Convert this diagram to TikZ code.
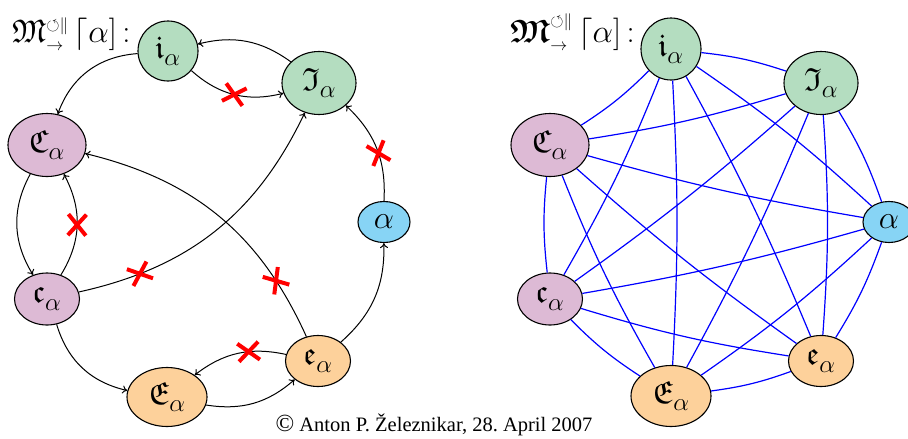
\RequirePackage{fix-cm}
\documentclass[tikz,border=0pt]{standalone}
\usepackage{amsmath,amssymb}
\usepackage{graphicx}
\usepackage{fontspec}
\setmainfont{Liberation Serif}
\usetikzlibrary{arrows.meta,shapes.geometric,shapes.misc}
\DeclareMathSizes{32}{32}{25}{20}
\DeclareMathSizes{32.5}{32.5}{17}{13}
\definecolor{cgreen}{RGB}{180,221,192}
\definecolor{cpurple}{RGB}{221,186,213}
\definecolor{cblue}{RGB}{135,212,245}
\definecolor{corange}{RGB}{253,209,155}
\newcommand{\fl}[1]{$\mathfrak{#1}_{\lower3pt\hbox{$\scriptstyle\alpha$}}$}
\tikzset{
  vtx/.style={ellipse, draw, line width=1.1pt, inner sep=0pt, font=\fontsize{32}{32}\selectfont},
  grn/.style={fill=cgreen}, pur/.style={fill=cpurple}, blu/.style={fill=cblue}, org/.style={fill=corange},
  arr/.style={-{To[length=5pt,width=8pt]}, line width=1pt},
  xmark/.style={cross out, draw=red, line width=4pt, minimum width=17pt, minimum height=14pt, inner sep=0pt, sloped},
  bl/.style={blue, line width=1.2pt},
  ttl/.style={anchor=base west, inner sep=0pt, font=\fontsize{32.5}{33}\selectfont}
}
\begin{document}
\begin{tikzpicture}[x=1pt,y=1pt]
\useasboundingbox (0,0) rectangle (908,-439);
% titles
\node[ttl] (t1) at (12,-42) {$\mathfrak{M}^{\circlearrowleft\|}_{\rightarrow}\,\lceil\alpha]\,{:}$};
\node[ttl] (t2) at (510,-42) {$\boldsymbol{\mathfrak{M}}^{\circlearrowleft\|}_{\rightarrow}\,\lceil\alpha]\,{:}$};
% left graph
\node[vtx,grn,minimum width=60pt,minimum height=60pt] (i) at (168,-51) {\fl{i}};
\node[vtx,grn,minimum width=74pt,minimum height=63pt] (J) at (319,-83) {\fl{I}};
\node[vtx,pur,minimum width=78pt,minimum height=63pt] (C) at (47,-145) {\fl{C}};
\node[vtx,blu,minimum width=52pt,minimum height=41pt] (a) at (384,-222) {$\alpha$};
\node[vtx,pur,minimum width=65pt,minimum height=52pt] (c) at (47,-299) {\fl{c}};
\node[vtx,org,minimum width=65pt,minimum height=51pt] (e) at (318,-361) {\fl{e}};
\node[vtx,org,minimum width=80pt,minimum height=59pt] (E) at (167,-397) {\fl{E}};
\draw[arr] (J) to[bend right=25] (i);
\draw[arr] (i) to[bend right=28] node[xmark,pos=.5]{} (J);
\draw[arr] (i) to[bend right=33] (C);
\draw[arr] (C) to[bend right=30] (c);
\draw[arr] (c) to[bend right=30] node[xmark,pos=.5]{} (C);
\draw[arr] (c) to[bend right=26] node[xmark,pos=.2]{} (J);
\draw[arr] (e) to[bend right=26] node[xmark,pos=.2]{} (C);
\draw[arr] (c) to[bend right=30] (E);
\draw[arr] (e) to[bend right=25] node[xmark,pos=.38]{} (E);
\draw[arr] (E) to[bend right=25] (e);
\draw[arr] (e) to[bend right=25] (a);
\draw[arr] (a) to[bend right=25] node[xmark,pos=.45]{} (J);
% right graph
\node[vtx,grn,minimum width=60pt,minimum height=62pt] (Ri) at (671,-49) {\fl{i}};
\node[vtx,grn,minimum width=74pt,minimum height=63pt] (RJ) at (821,-83) {\fl{I}};
\node[vtx,pur,minimum width=78pt,minimum height=63pt] (RC) at (550,-145) {\fl{C}};
\node[vtx,blu,minimum width=52pt,minimum height=41pt] (Ra) at (889,-222) {$\alpha$};
\node[vtx,pur,minimum width=65pt,minimum height=52pt] (Rc) at (550,-299) {\fl{c}};
\node[vtx,org,minimum width=65pt,minimum height=51pt] (Re) at (821,-361) {\fl{e}};
\node[vtx,org,minimum width=80pt,minimum height=61pt] (RE) at (671,-396) {\fl{E}};
\foreach \p/\q/\t in {Ri/RJ/6, Ri/Ra/4, Ri/Re/3, Ri/RE/3, Ri/Rc/4, Ri/RC/6,
  RJ/Ra/6, RJ/Re/4, RJ/RE/3, RJ/Rc/3, RJ/RC/4,
  Ra/Re/6, Ra/RE/4, Ra/Rc/3, Ra/RC/3,
  Re/RE/6, Re/Rc/4, Re/RC/3,
  RE/Rc/6, RE/RC/4, Rc/RC/6}
  \draw[bl] (\p) to[bend left=\t] (\q);
% copyright
\node[anchor=base, inner sep=0pt, font=\fontsize{20.5}{24}\selectfont] (cr) at (434,-431) {\frenchspacing\scalebox{1.2}{\copyright}\ Anton P. Železnikar, 28. April 2007};
\end{tikzpicture}
\end{document}
